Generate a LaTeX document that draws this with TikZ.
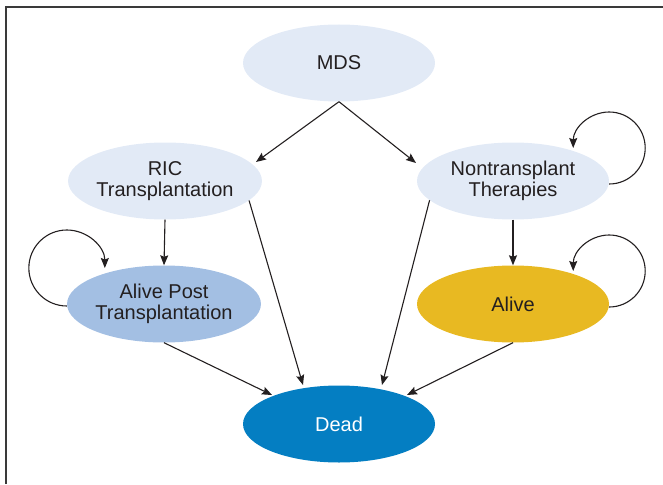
\documentclass[tikz,border=0pt]{standalone}
\usepackage{fontspec}
\setmainfont{Liberation Sans}
\usetikzlibrary{shapes.geometric,arrows.meta,calc}
\definecolor{lightbl}{HTML}{E2EAF6}
\definecolor{midbl}{HTML}{A3BFE3}
\definecolor{goldy}{HTML}{E8B922}
\definecolor{deadbl}{HTML}{047EC2}
\definecolor{txt}{HTML}{231F20}
\definecolor{framec}{HTML}{3A3A3A}
\begin{document}
\begin{tikzpicture}[x=1pt,y=1pt,
  state/.style={ellipse, minimum width=192pt, minimum height=77pt, inner sep=0pt,
    text=txt, align=center, font=\fontsize{20}{21}\selectfont},
  arr/.style={draw=txt, line width=1.1pt, -{Stealth[length=10pt,width=8pt,inset=1.5pt]}}]
\useasboundingbox (0,0) rectangle (663,-484);
\draw[framec, line width=1.5pt] (6,-484) -- (6,-7) -- (663,-7);

\node[state, fill=lightbl] (MDS) at (339,-63) {MDS};
\node[state, fill=lightbl] (RIC) at (165,-181) {RIC\\Transplantation};
\node[state, fill=lightbl] (NT) at (513,-181) {Nontransplant\\Therapies};
\node[state, fill=midbl] (AP) at (164,-304) {Alive Post\\Transplantation};
\node[state, fill=goldy] (AL) at (513,-304) {Alive};
\node[state, fill=deadbl, text=white] (DE) at (339,-424) {Dead};

\draw[arr] (MDS.south) -- ([shift={(91,19)}]RIC.center);
\draw[arr] (MDS.south) -- ([shift={(-97,18)}]NT.center);
\draw[arr] (RIC.south) -- (AP.north);
\draw[arr] (NT.south) -- (AL.north);
\draw[arr] (RIC.-13) -- ([shift={(-36,39)}]DE.center);
\draw[arr] (NT.193) -- ([shift={(43,39)}]DE.center);
\draw[arr] (AP.south) -- ([shift={(-67,29)}]DE.center);
\draw[arr] (AL.south) -- ([shift={(68,29)}]DE.center);

\draw[arr] ([yshift=-3pt]NT.east) arc[start angle=-90, end angle=180, radius=36pt];
\draw[arr] ([yshift=-3pt]AL.east) arc[start angle=-90, end angle=180, radius=36pt];
\draw[arr] ([yshift=-2pt]AP.west) arc[start angle=270, end angle=0, radius=38pt];
\end{tikzpicture}
\end{document}
